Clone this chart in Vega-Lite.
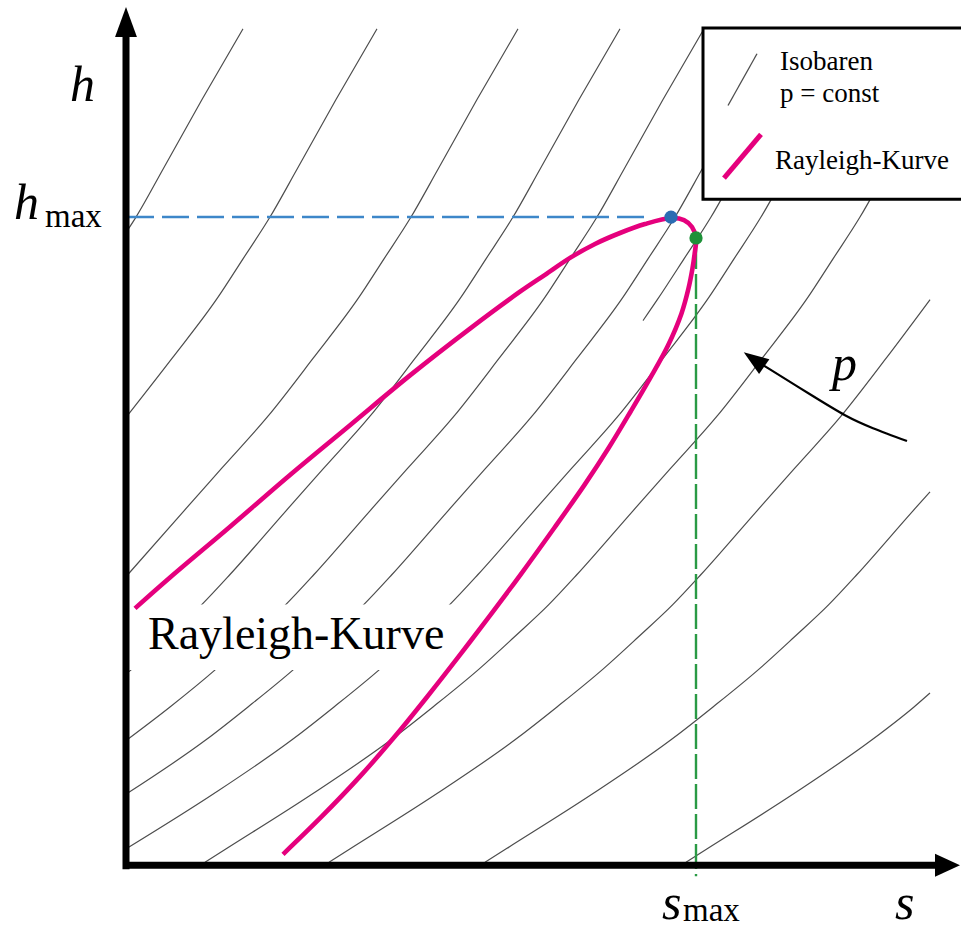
{
  "$schema": "https://vega.github.io/schema/vega-lite/v6.json",
  "width": 961,
  "height": 929,
  "autosize": {"type": "fit", "contains": "padding"},
  "padding": 0,
  "background": "white",
  "config": {"view": {"stroke": null}},
  "datasets": {
    "isobars": [
      {"id": 1, "s": 117, "h": 840}, {"id": 1, "s": 76, "h": 769}, {"id": 1, "s": 37, "h": 699}, {"id": 1, "s": 10, "h": 651}, {"id": 1, "s": 1, "h": 637},
      {"id": 2, "s": 251, "h": 840}, {"id": 2, "s": 210, "h": 769}, {"id": 2, "s": 171, "h": 699}, {"id": 2, "s": 144, "h": 651}, {"id": 2, "s": 117, "h": 609}, {"id": 2, "s": 91, "h": 569}, {"id": 2, "s": 46, "h": 509}, {"id": 2, "s": 1, "h": 451},
      {"id": 3, "s": 392, "h": 840}, {"id": 3, "s": 351, "h": 769}, {"id": 3, "s": 312, "h": 699}, {"id": 3, "s": 285, "h": 651}, {"id": 3, "s": 258, "h": 609}, {"id": 3, "s": 232, "h": 569}, {"id": 3, "s": 187, "h": 509}, {"id": 3, "s": 142, "h": 451}, {"id": 3, "s": 96, "h": 399}, {"id": 3, "s": 58, "h": 356}, {"id": 3, "s": 1, "h": 291},
      {"id": 4, "s": 494, "h": 840}, {"id": 4, "s": 453, "h": 769}, {"id": 4, "s": 414, "h": 699}, {"id": 4, "s": 387, "h": 651}, {"id": 4, "s": 360, "h": 609}, {"id": 4, "s": 334, "h": 569}, {"id": 4, "s": 289, "h": 509}, {"id": 4, "s": 244, "h": 451}, {"id": 4, "s": 198, "h": 399}, {"id": 4, "s": 160, "h": 356}, {"id": 4, "s": 104, "h": 292}, {"id": 4, "s": 76, "h": 262}, {"id": 4, "s": 41, "h": 229}, {"id": 4, "s": 6, "h": 197}, {"id": 4, "s": 1, "h": 193},
      {"id": 5, "s": 578, "h": 840}, {"id": 5, "s": 537, "h": 769}, {"id": 5, "s": 498, "h": 699}, {"id": 5, "s": 471, "h": 651}, {"id": 5, "s": 444, "h": 609}, {"id": 5, "s": 418, "h": 569}, {"id": 5, "s": 373, "h": 509}, {"id": 5, "s": 328, "h": 451}, {"id": 5, "s": 282, "h": 399}, {"id": 5, "s": 244, "h": 356}, {"id": 5, "s": 188, "h": 292}, {"id": 5, "s": 160, "h": 262}, {"id": 5, "s": 125, "h": 229}, {"id": 5, "s": 90, "h": 197}, {"id": 5, "s": 44, "h": 159}, {"id": 5, "s": 1, "h": 126},
      {"id": 6, "s": 656, "h": 840}, {"id": 6, "s": 615, "h": 769}, {"id": 6, "s": 576, "h": 699}, {"id": 6, "s": 549, "h": 651}, {"id": 6, "s": 522, "h": 609}, {"id": 6, "s": 496, "h": 569}, {"id": 6, "s": 451, "h": 509}, {"id": 6, "s": 406, "h": 451}, {"id": 6, "s": 360, "h": 399}, {"id": 6, "s": 322, "h": 356}, {"id": 6, "s": 266, "h": 292}, {"id": 6, "s": 238, "h": 262}, {"id": 6, "s": 203, "h": 229}, {"id": 6, "s": 168, "h": 197}, {"id": 6, "s": 122, "h": 159}, {"id": 6, "s": 80, "h": 126}, {"id": 6, "s": 1, "h": 72},
      {"id": 7, "s": 692, "h": 840}, {"id": 7, "s": 651, "h": 769}, {"id": 7, "s": 612, "h": 699}, {"id": 7, "s": 585, "h": 651}, {"id": 7, "s": 558, "h": 609}, {"id": 7, "s": 532, "h": 569}, {"id": 7, "s": 517, "h": 547},
      {"id": 8, "s": 742, "h": 840}, {"id": 8, "s": 701, "h": 769}, {"id": 8, "s": 662, "h": 699}, {"id": 8, "s": 635, "h": 651}, {"id": 8, "s": 608, "h": 609}, {"id": 8, "s": 582, "h": 569}, {"id": 8, "s": 537, "h": 509}, {"id": 8, "s": 492, "h": 451}, {"id": 8, "s": 446, "h": 399}, {"id": 8, "s": 408, "h": 356}, {"id": 8, "s": 352, "h": 292}, {"id": 8, "s": 324, "h": 262}, {"id": 8, "s": 289, "h": 229}, {"id": 8, "s": 254, "h": 197}, {"id": 8, "s": 208, "h": 159}, {"id": 8, "s": 166, "h": 126}, {"id": 8, "s": 88, "h": 72}, {"id": 8, "s": 1, "h": 17},
      {"id": 9, "s": 804, "h": 775}, {"id": 9, "s": 800, "h": 769}, {"id": 9, "s": 761, "h": 699}, {"id": 9, "s": 734, "h": 651}, {"id": 9, "s": 707, "h": 609}, {"id": 9, "s": 681, "h": 569}, {"id": 9, "s": 636, "h": 509}, {"id": 9, "s": 591, "h": 451}, {"id": 9, "s": 545, "h": 399}, {"id": 9, "s": 507, "h": 356}, {"id": 9, "s": 451, "h": 292}, {"id": 9, "s": 423, "h": 262}, {"id": 9, "s": 388, "h": 229}, {"id": 9, "s": 353, "h": 197}, {"id": 9, "s": 307, "h": 159}, {"id": 9, "s": 265, "h": 126}, {"id": 9, "s": 187, "h": 72}, {"id": 9, "s": 101, "h": 17}, {"id": 9, "s": 79, "h": 3},
      {"id": 10, "s": 804, "h": 568}, {"id": 10, "s": 760, "h": 509}, {"id": 10, "s": 715, "h": 451}, {"id": 10, "s": 669, "h": 399}, {"id": 10, "s": 631, "h": 356}, {"id": 10, "s": 575, "h": 292}, {"id": 10, "s": 547, "h": 262}, {"id": 10, "s": 512, "h": 229}, {"id": 10, "s": 477, "h": 197}, {"id": 10, "s": 431, "h": 159}, {"id": 10, "s": 389, "h": 126}, {"id": 10, "s": 311, "h": 72}, {"id": 10, "s": 225, "h": 17}, {"id": 10, "s": 203, "h": 3},
      {"id": 11, "s": 804, "h": 375}, {"id": 11, "s": 787, "h": 356}, {"id": 11, "s": 731, "h": 292}, {"id": 11, "s": 703, "h": 262}, {"id": 11, "s": 668, "h": 229}, {"id": 11, "s": 633, "h": 197}, {"id": 11, "s": 587, "h": 159}, {"id": 11, "s": 545, "h": 126}, {"id": 11, "s": 467, "h": 72}, {"id": 11, "s": 381, "h": 17}, {"id": 11, "s": 359, "h": 3},
      {"id": 12, "s": 804, "h": 173}, {"id": 12, "s": 788, "h": 159}, {"id": 12, "s": 746, "h": 126}, {"id": 12, "s": 668, "h": 72}, {"id": 12, "s": 582, "h": 17}, {"id": 12, "s": 560, "h": 3}
    ],
    "rayleigh": [
      {"i": 1, "s": 9, "h": 258}, {"i": 2, "s": 44, "h": 289}, {"i": 3, "s": 104, "h": 340}, {"i": 4, "s": 164, "h": 392}, {"i": 5, "s": 224, "h": 442}, {"i": 6, "s": 284, "h": 492}, {"i": 7, "s": 344, "h": 539}, {"i": 8, "s": 394, "h": 576}, {"i": 9, "s": 419, "h": 593}, {"i": 10, "s": 444, "h": 610}, {"i": 11, "s": 469, "h": 624}, {"i": 12, "s": 494, "h": 635}, {"i": 13, "s": 519, "h": 644}, {"i": 14, "s": 545, "h": 650},
      {"i": 15, "s": 558, "h": 648}, {"i": 16, "s": 566, "h": 641}, {"i": 17, "s": 570, "h": 630},
      {"i": 18, "s": 568.6, "h": 614}, {"i": 19, "s": 566.4, "h": 599}, {"i": 20, "s": 562.4, "h": 579}, {"i": 21, "s": 555.4, "h": 554}, {"i": 22, "s": 542, "h": 522}, {"i": 23, "s": 524, "h": 489}, {"i": 24, "s": 504.8, "h": 456}, {"i": 25, "s": 482.6, "h": 419}, {"i": 26, "s": 458.5, "h": 382}, {"i": 27, "s": 428.4, "h": 339}, {"i": 28, "s": 394.6, "h": 292}, {"i": 29, "s": 362.6, "h": 249}, {"i": 30, "s": 332.2, "h": 209}, {"i": 31, "s": 301, "h": 169}, {"i": 32, "s": 268.6, "h": 129}, {"i": 33, "s": 233.8, "h": 89}, {"i": 34, "s": 195.8, "h": 49}, {"i": 35, "s": 157, "h": 11}
    ],
    "states": [
      {"kind": "hmax", "s": 545, "h": 651},
      {"kind": "smax", "s": 570, "h": 630}
    ],
    "guides": [
      {"kind": "hmax", "s": 1, "h": 651, "s2": 524, "h2": 651},
      {"kind": "smax", "s": 570, "h": 624, "s2": 570, "h2": -11}
    ],
    "axes": [
      {"kind": "h", "s": 0, "h": -4, "s2": 0, "h2": 834},
      {"kind": "s", "s": -3, "h": 0, "s2": 812, "h2": 0}
    ],
    "heads": [
      {"kind": "h", "s": 0, "h": 847},
      {"kind": "s", "s": 821.5, "h": 0}
    ],
    "parrow": [
      {"i": 1, "s": 781, "h": 426}, {"i": 2, "s": 747, "h": 439}, {"i": 3, "s": 719, "h": 452}, {"i": 4, "s": 684, "h": 473}, {"i": 5, "s": 644, "h": 498}, {"i": 6, "s": 636, "h": 503}
    ],
    "parrowhead": [{"s": 628, "h": 508}],
    "labelbox": [{"s": 3, "h": 262, "s2": 334, "h2": 196}],
    "legendbox": [{"s": 577, "h": 841, "s2": 860, "h2": 669}],
    "legendsamples": [
      {"kind": "iso", "s": 602, "h": 763, "s2": 631, "h2": 815},
      {"kind": "ray", "s": 598, "h": 690, "s2": 635, "h2": 734}
    ],
    "labels": [
      {"role": "math", "t": "h", "s": -56, "h": 768},
      {"role": "math", "t": "h", "s": -112, "h": 649},
      {"role": "math", "t": "s", "s": 536, "h": -54},
      {"role": "math", "t": "s", "s": 769, "h": -54},
      {"role": "math", "t": "p", "s": 706, "h": 487},
      {"role": "sub", "t": "max", "s": -81, "h": 641},
      {"role": "sub", "t": "max", "s": 557, "h": -56},
      {"role": "curve", "t": "Rayleigh-Kurve", "s": 22, "h": 217},
      {"role": "legend", "t": "Isobaren", "s": 654, "h": 799},
      {"role": "legend", "t": "p = const", "s": 654, "h": 767},
      {"role": "legend", "t": "Rayleigh-Kurve", "s": 649, "h": 699}
    ]
  },
  "encoding": {
    "x": {"field": "s", "type": "quantitative", "scale": {"domain": [-126, 835], "nice": false, "zero": false}, "axis": null},
    "y": {"field": "h", "type": "quantitative", "scale": {"domain": [-60, 869], "nice": false, "zero": false}, "axis": null}
  },
  "layer": [
    {
      "data": {"name": "isobars"},
      "mark": {"type": "line", "interpolate": "monotone", "color": "#4d4d4d", "strokeWidth": 1.2},
      "encoding": {"detail": {"field": "id", "type": "nominal"}}
    },
    {
      "data": {"name": "labelbox"},
      "mark": {"type": "rect", "fill": "white", "strokeWidth": 0},
      "encoding": {"x2": {"field": "s2"}, "y2": {"field": "h2"}}
    },
    {
      "data": {"name": "guides"},
      "transform": [{"filter": "datum.kind === 'hmax'"}],
      "mark": {"type": "rule", "strokeWidth": 2.6, "color": "#3d87c9", "strokeDash": [27, 8]},
      "encoding": {"x2": {"field": "s2"}, "y2": {"field": "h2"}}
    },
    {
      "data": {"name": "guides"},
      "transform": [{"filter": "datum.kind === 'smax'"}],
      "mark": {"type": "rule", "strokeWidth": 2.4, "color": "#2a9a45", "strokeDash": [25, 5]},
      "encoding": {"x2": {"field": "s2"}, "y2": {"field": "h2"}}
    },
    {
      "data": {"name": "axes"},
      "mark": {"type": "rule", "color": "black", "strokeWidth": 7},
      "encoding": {"x2": {"field": "s2"}, "y2": {"field": "h2"}}
    },
    {
      "data": {"name": "heads"},
      "transform": [{"filter": "datum.kind === 'h'"}],
      "mark": {"type": "point", "shape": "M0,-1L0.73,1L-0.73,1Z", "size": 900, "filled": true, "color": "black", "opacity": 1, "strokeWidth": 0}
    },
    {
      "data": {"name": "heads"},
      "transform": [{"filter": "datum.kind === 's'"}],
      "mark": {"type": "point", "shape": "M1,0L-1,0.92L-1,-0.92Z", "size": 625, "filled": true, "color": "black", "opacity": 1, "strokeWidth": 0}
    },
    {
      "data": {"name": "rayleigh"},
      "mark": {"type": "line", "interpolate": "catmull-rom", "color": "#e5007d", "strokeWidth": 4.6, "strokeCap": "butt"},
      "encoding": {"order": {"field": "i", "type": "quantitative"}}
    },
    {
      "data": {"name": "states"},
      "transform": [{"filter": "datum.kind === 'hmax'"}],
      "mark": {"type": "point", "shape": "circle", "size": 175, "filled": true, "opacity": 1, "strokeWidth": 0, "color": "#2b6cb3"}
    },
    {
      "data": {"name": "states"},
      "transform": [{"filter": "datum.kind === 'smax'"}],
      "mark": {"type": "point", "shape": "circle", "size": 175, "filled": true, "opacity": 1, "strokeWidth": 0, "color": "#1e9139"}
    },
    {
      "data": {"name": "parrow"},
      "mark": {"type": "line", "interpolate": "natural", "color": "black", "strokeWidth": 2.2},
      "encoding": {"order": {"field": "i", "type": "quantitative"}}
    },
    {
      "data": {"name": "parrowhead"},
      "mark": {"type": "point", "shape": "M0,-1L0.72,1L-0.72,1Z", "size": 625, "angle": 305, "filled": true, "color": "black", "opacity": 1, "strokeWidth": 0}
    },
    {
      "data": {"name": "legendbox"},
      "mark": {"type": "rect", "fill": "white", "stroke": "black", "strokeWidth": 3, "clip": true},
      "encoding": {"x2": {"field": "s2"}, "y2": {"field": "h2"}}
    },
    {
      "data": {"name": "legendsamples"},
      "transform": [{"filter": "datum.kind === 'iso'"}],
      "mark": {"type": "rule", "color": "#4d4d4d", "strokeWidth": 1.3},
      "encoding": {"x2": {"field": "s2"}, "y2": {"field": "h2"}}
    },
    {
      "data": {"name": "legendsamples"},
      "transform": [{"filter": "datum.kind === 'ray'"}],
      "mark": {"type": "rule", "color": "#e5007d", "strokeWidth": 5},
      "encoding": {"x2": {"field": "s2"}, "y2": {"field": "h2"}}
    },
    {
      "data": {"name": "labels"},
      "transform": [{"filter": "datum.role === 'math'"}],
      "mark": {"type": "text", "align": "left", "baseline": "alphabetic", "font": "Liberation Serif", "fontStyle": "italic", "fontSize": 50, "color": "black"},
      "encoding": {"text": {"field": "t"}}
    },
    {
      "data": {"name": "labels"},
      "transform": [{"filter": "datum.role === 'sub'"}],
      "mark": {"type": "text", "align": "left", "baseline": "alphabetic", "font": "Liberation Serif", "fontSize": 33, "color": "black"},
      "encoding": {"text": {"field": "t"}}
    },
    {
      "data": {"name": "labels"},
      "transform": [{"filter": "datum.role === 'curve'"}],
      "mark": {"type": "text", "align": "left", "baseline": "alphabetic", "font": "Liberation Serif", "fontSize": 46, "color": "black"},
      "encoding": {"text": {"field": "t"}}
    },
    {
      "data": {"name": "labels"},
      "transform": [{"filter": "datum.role === 'legend'"}],
      "mark": {"type": "text", "align": "left", "baseline": "alphabetic", "font": "Liberation Serif", "fontSize": 27, "color": "black"},
      "encoding": {"text": {"field": "t"}}
    }
  ]
}
